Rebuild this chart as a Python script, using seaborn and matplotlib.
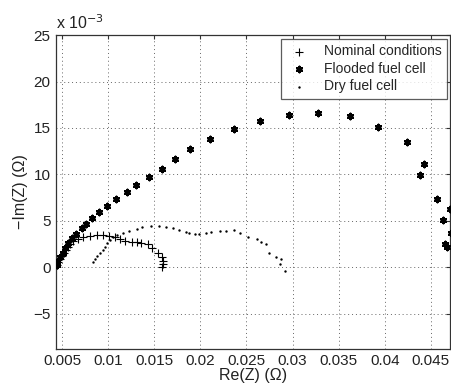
import numpy as np
import pandas as pd
import seaborn as sns
import matplotlib
matplotlib.use("Agg")
import matplotlib.pyplot as plt

# Nyquist data, y in units of 1e-3 Ohm
nom_re = [0.00446, 0.00457, 0.00478, 0.0050, 0.0052, 0.00543, 0.00565, 0.00586, 0.00619,
          0.00673, 0.00727, 0.00802, 0.00878, 0.00943, 0.0101, 0.0107, 0.0113, 0.0118,
          0.0126, 0.0131, 0.0136, 0.0143, 0.0148, 0.0154, 0.0158, 0.0159, 0.0159, 0.0158]
nom_im = [0.22, 0.54, 0.86, 1.19, 1.51, 1.84, 2.16, 2.48, 2.81,
          3.02, 3.24, 3.35, 3.46, 3.46, 3.35, 3.24, 3.02, 2.81,
          2.70, 2.70, 2.59, 2.48, 2.05, 1.51, 1.08, 0.65, 0.32, 0.0]

fld_re = [0.0044, 0.00446, 0.00478, 0.0051, 0.0053, 0.00565, 0.0061, 0.0065, 0.0072,
          0.0076, 0.0082, 0.0090, 0.0099, 0.0108, 0.0120, 0.0130, 0.0144, 0.0158,
          0.0173, 0.0189, 0.0210, 0.0237, 0.0265, 0.0296, 0.0328, 0.0362, 0.0393,
          0.0424, 0.0443, 0.0438, 0.0457, 0.0471, 0.0463, 0.0472, 0.0465, 0.0468]
fld_im = [0.2, 0.54, 1.08, 1.51, 2.05, 2.59, 3.13, 3.56, 4.21,
          4.64, 5.29, 5.94, 6.59, 7.34, 8.10, 8.86, 9.72, 10.58,
          11.66, 12.74, 13.82, 14.9, 15.77, 16.41, 16.63, 16.31, 15.12,
          13.5, 11.12, 9.94, 7.34, 6.26, 5.08, 3.67, 2.48, 2.16]

dry_re = [0.00835, 0.00856, 0.00878, 0.0091, 0.00943, 0.00964, 0.00986, 0.0102, 0.0105,
          0.0110, 0.0116, 0.0123, 0.0131, 0.0137, 0.0147, 0.0155, 0.0163, 0.0170,
          0.0177, 0.0184, 0.0188, 0.0194, 0.0199, 0.0206, 0.0212, 0.0221, 0.0228,
          0.0237, 0.0243, 0.0252, 0.0261, 0.0266, 0.0271, 0.0275, 0.0282, 0.0288,
          0.0286, 0.0292]
dry_im = [0.54, 0.86, 1.19, 1.51, 1.84, 2.16, 2.59, 2.92, 3.24,
          3.46, 3.67, 3.89, 4.10, 4.32, 4.43, 4.43, 4.32, 4.21,
          4.0, 3.78, 3.67, 3.56, 3.56, 3.67, 3.78, 3.89, 3.89,
          4.0, 3.67, 3.24, 3.02, 2.70, 2.48, 1.51, 1.08, 0.86,
          0.32, -0.43]

labels = ["Nominal conditions", "Flooded fuel cell", "Dry fuel cell"]

df = pd.concat([
    pd.DataFrame({"re": nom_re, "im": nom_im, "case": labels[0]}),
    pd.DataFrame({"re": fld_re, "im": fld_im, "case": labels[1]}),
    pd.DataFrame({"re": dry_re, "im": dry_im, "case": labels[2]}),
])

sns.set_style("white")
plt.rcParams["font.family"] = ["Liberation Sans", "DejaVu Sans"]

fig = plt.figure(figsize=(4.52, 3.86), dpi=100)
ax = fig.add_axes([0.124, 0.096, 0.872, 0.813])

nom = df[df.case == labels[0]]
fld = df[df.case == labels[1]]
dry = df[df.case == labels[2]]
sns.scatterplot(data=nom, x="re", y="im", marker="+", color="black", s=26,
                linewidth=0.8, ax=ax, label=labels[0], zorder=3)
sns.scatterplot(data=fld, x="re", y="im", marker=(6, 2, 0), color="black", s=15,
                linewidth=1.7, ax=ax, label=labels[1], zorder=3)
sns.scatterplot(data=dry, x="re", y="im", marker="o", color="black", s=3,
                linewidth=0, ax=ax, label=labels[2], zorder=3)

ax.set_xlim(0.00435, 0.0471)
ax.set_ylim(-8.8, 25)
ax.set_xticks([0.005, 0.01, 0.015, 0.02, 0.025, 0.03, 0.035, 0.04, 0.045])
ax.set_xticklabels(["0.005", "0.01", "0.015", "0.02", "0.025", "0.03", "0.035", "0.04", "0.045"])
ax.set_yticks([-5, 0, 5, 10, 15, 20, 25])
ax.set_yticklabels(["\u22125", "0", "5", "10", "15", "20", "25"])
ax.grid(True, linestyle=(0, (1, 3)), color="#666666", linewidth=0.7)
ax.tick_params(direction="in", length=3, top=True, right=True, colors="#333333",
               labelcolor="#222222", labelsize=11, pad=4)
for sp in ax.spines.values():
    sp.set_color("#333333")
    sp.set_linewidth(0.9)

ax.set_xlabel("Re(Z) (\u03a9)", fontsize=11.5, labelpad=0, color="#222222")
ax.set_ylabel("\u2212Im(Z) (\u03a9)", fontsize=11.5, labelpad=4, color="#222222")
ax.text(0.0, 1.01, "x 10$^{-3}$", transform=ax.transAxes, fontsize=11.5,
        ha="left", va="bottom", color="#222222")

leg = ax.legend(loc="upper left", frameon=True, fancybox=False, fontsize=10,
                borderaxespad=0.0, handletextpad=0.9, borderpad=0.4,
                labelspacing=0.25, handlelength=1.8, bbox_to_anchor=(0.57, 0.988))
leg.get_frame().set_edgecolor("#333333")
leg.get_frame().set_linewidth(0.9)

fig.savefig("out.png", dpi=100)
